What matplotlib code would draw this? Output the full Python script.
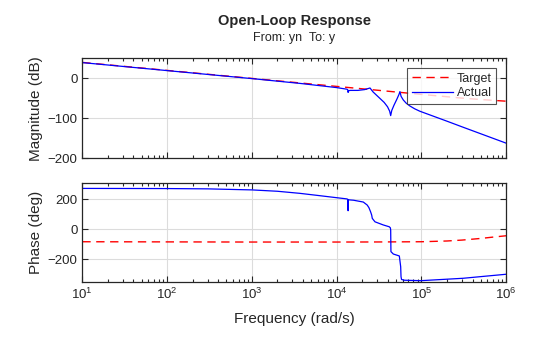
import matplotlib
matplotlib.use("Agg")
import matplotlib.pyplot as plt
import numpy as np
from matplotlib.ticker import LogLocator, NullFormatter

plt.rcParams["font.family"] = ["Liberation Sans", "DejaVu Sans"]

# ---------------------------------------------------------------------
# Values
# ---------------------------------------------------------------------
target_freq = [10, 100, 1e3, 1e4, 3e4, 1e5, 2e5, 3e5, 5e5, 7e5, 1e6]
target_mag = [40, 20, 0, -20, -29.5, -40, -45.8, -49.3, -52.8, -54.9, -57]
target_phase = [-83, -84, -85, -85, -84.5, -83, -78, -72, -61, -52, -43]

actual_mag_freq = [10, 100, 1e3, 3690, 1e4, 13183, 13490, 13646, 13804, 14454,
                   17783, 21380, 24717, 26915, 29512, 32359, 36308, 39811,
                   42170, 43351, 44668, 47424, 51286, 54325, 55719, 57544,
                   61094, 66069, 73114, 83176, 95499, 2e5, 309030, 1e6]
actual_mag = [39.5, 19.5, -0.5, -12.5, -23, -27, -28, -35, -31, -30,
              -30, -28, -24, -34, -42, -50, -60, -71,
              -82, -93, -80, -67, -52, -40, -33, -45,
              -54, -62, -69, -76, -82, -107, -122, -162]

actual_phase_freq = [10, 100, 300, 1e3, 2e3, 3690, 6e3, 1e4, 13183, 13552,
                     13646, 13740, 15849,
                     20606, 22909, 23988, 25119, 25882, 26303, 27227, 28314,
                     35481, 41687, 42954, 43351, 43652, 46559, 54828, 56885,
                     57412, 58210, 63096, 97724, 309030, 1e6]
actual_phase = [273, 272, 270, 263, 254, 240, 226, 211, 203, 200,
                124, 197, 194,
                182, 162, 145, 117, 95, 73, 62, 50,
                29, 17, 10, -4, -149, -165, -178, -250,
                -316, -335, -340, -343, -327, -300]

text_color = "#262626"
grid_color = "#dcdcdc"

fig = plt.figure(figsize=(5.6, 3.37), dpi=100)
ax_mag = fig.add_axes([0.147, 0.530, 0.757, 0.2967])
ax_ph = fig.add_axes([0.147, 0.164, 0.757, 0.2938])

ax_mag.semilogx(target_freq, target_mag, color="#ff0000", ls=(0, (6, 4)), lw=1.0, label="Target")
ax_mag.semilogx(actual_mag_freq, actual_mag, color="#0000ff", lw=0.9, label="Actual")
ax_ph.semilogx(target_freq, target_phase, color="#ff0000", ls=(0, (6, 4)), lw=1.0)
ax_ph.semilogx(actual_phase_freq, actual_phase, color="#0000ff", lw=0.9)

ax_mag.set_ylim(-200, 50)
ax_mag.set_yticks([-200, -100, 0])
ax_ph.set_ylim(-350, 311)
ax_ph.set_yticks([-200, 0, 200])

for ax in (ax_mag, ax_ph):
    ax.set_xlim(10, 1e6)
    ax.xaxis.set_major_locator(LogLocator(base=10, numticks=10))
    ax.xaxis.set_minor_locator(LogLocator(base=10, subs=np.arange(2, 10), numticks=20))
    ax.xaxis.set_minor_formatter(NullFormatter())
    ax.grid(True, which="major", color=grid_color, lw=0.8)
    ax.set_axisbelow(True)
    ax.tick_params(which="both", direction="in", top=True, right=True,
                   colors=text_color, labelsize=9.5, width=0.8)
    ax.tick_params(which="major", length=4)
    ax.tick_params(which="minor", length=2)
    for s in ax.spines.values():
        s.set_color(text_color)
        s.set_linewidth(0.9)

ax_mag.tick_params(labelbottom=False)

ax_mag.set_ylabel("Magnitude (dB)", fontsize=11, color=text_color, labelpad=3)
ax_ph.set_ylabel("Phase (deg)", fontsize=11, color=text_color, labelpad=3)
ax_ph.set_xlabel("Frequency (rad/s)", fontsize=11, color=text_color, labelpad=7)

fig.text(0.5255, 0.938, "Open-Loop Response", ha="center", va="center",
         fontsize=10.5, fontweight="bold", color=text_color)
fig.text(0.5255, 0.888, "From: yn  To: y", ha="center", va="center",
         fontsize=9, color=text_color)

leg = ax_mag.legend(loc="upper right", fontsize=9, frameon=True, fancybox=False,
                    edgecolor="#262626", borderaxespad=0.8, handlelength=3.3,
                    borderpad=0.35, labelspacing=0.2, handletextpad=0.3)
leg.get_frame().set_linewidth(0.8)
for t in leg.get_texts():
    t.set_color(text_color)

fig.savefig("out.png", dpi=100)
